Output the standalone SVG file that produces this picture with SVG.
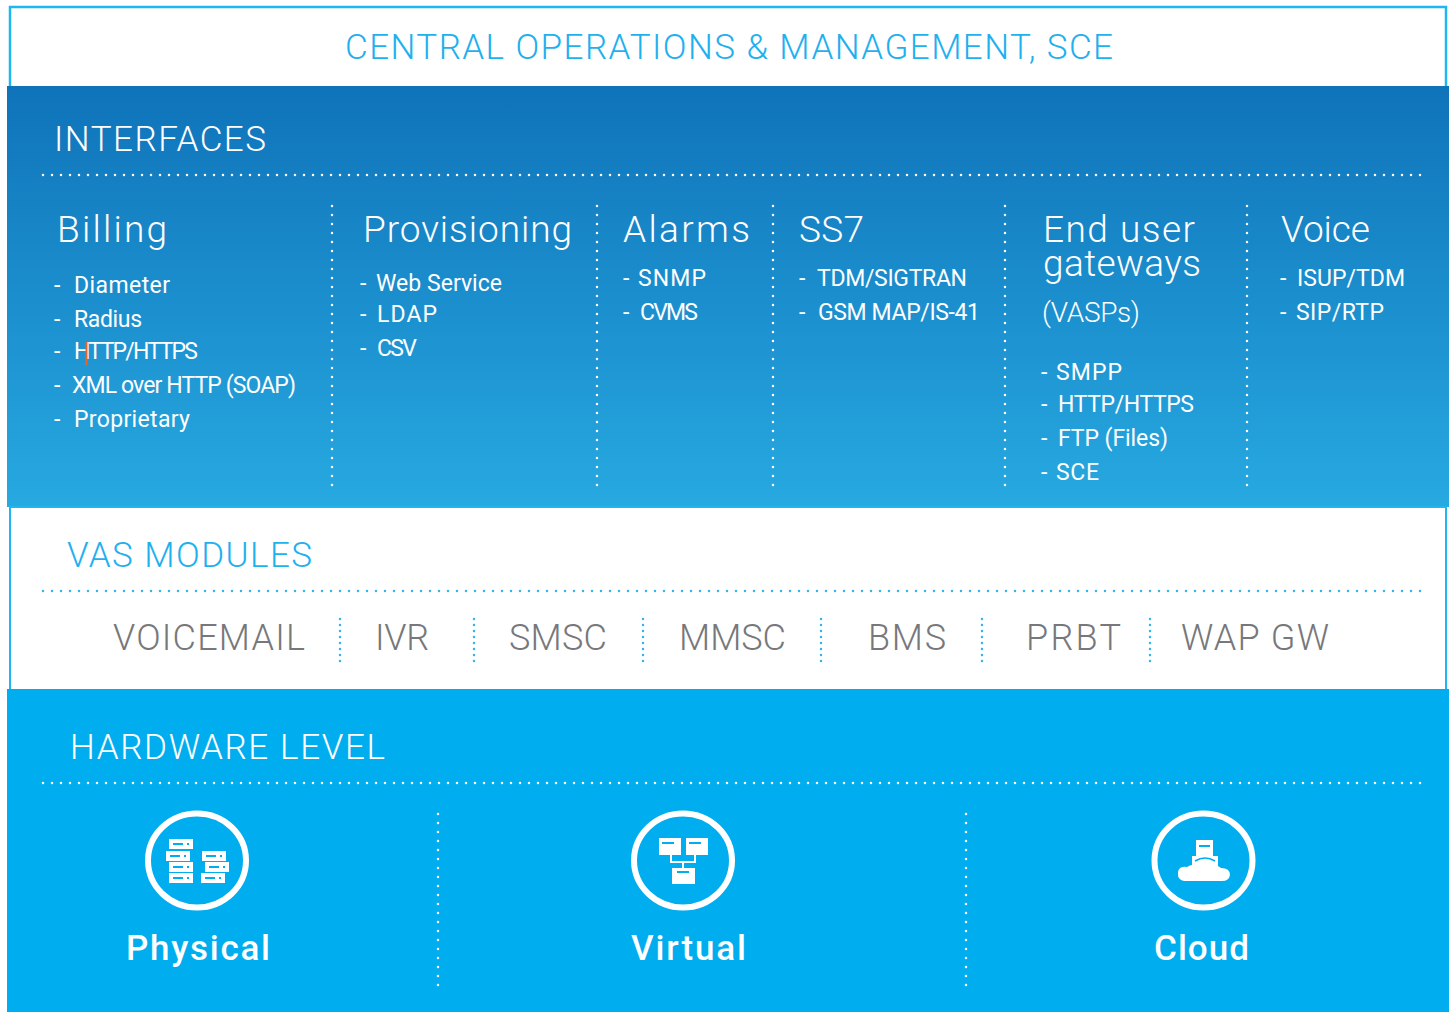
<svg xmlns="http://www.w3.org/2000/svg" width="1454" height="1012" viewBox="0 0 1454 1012">
<style>
text{font-family:"Roboto","Liberation Sans",sans-serif;font-weight:300}
.hd{font-size:35px;fill:#fff}
.hb{font-size:35px;fill:#1fb0ee}
.col{font-size:37px;fill:#fff}
.it{font-size:23px;fill:#fff;font-weight:400}
.mod{font-size:36px;fill:#77787b}
.hw{font-size:35px;fill:#fff;font-weight:500}
.dot{stroke:#fff;stroke-width:2.5;stroke-linecap:round;stroke-dasharray:0 9;fill:none}
.dotb{stroke:#35b5ee;stroke-width:2.5;stroke-linecap:round;stroke-dasharray:0 9;fill:none}
.dotv{stroke:#35b5ee;stroke-width:2.5;stroke-linecap:round;stroke-dasharray:0 6;fill:none}
.ring{fill:none;stroke:#fff;stroke-width:6}
.w{fill:#fff}
.s{fill:#00aeef}
</style>
<defs>
<linearGradient id="g" x1="0" y1="0" x2="0" y2="1"><stop offset="0" stop-color="#0f73b9"/><stop offset="1" stop-color="#27a9e1"/></linearGradient>
<g id="srv"><rect x="0" y="0" width="24" height="10" fill="#fff"/><rect x="4" y="4" width="10" height="2" fill="#00aeef"/><rect x="18" y="4" width="2" height="2" fill="#00aeef"/></g>
</defs>
<rect width="1454" height="1012" fill="#fff"/>
<g id="central">
<rect x="10" y="7" width="1436" height="90" fill="#fff" stroke="#1fb6f2" stroke-width="2.5"/>
<text class="hb" x="345" y="59" textLength="768" lengthAdjust="spacing">CENTRAL OPERATIONS &amp; MANAGEMENT, SCE</text>
</g>
<g id="interfaces">
<rect x="7" y="86" width="1442" height="421" fill="url(#g)"/>
<text class="hd" x="54" y="151" textLength="212" lengthAdjust="spacing">INTERFACES</text>
</g>
<g id="billing">
<text class="col" x="57" y="242" textLength="110" lengthAdjust="spacing">Billing</text>
<text class="it" x="54" y="293">-</text><text class="it" x="74" y="293" textLength="96" lengthAdjust="spacing">Diameter</text>
<text class="it" x="54" y="327">-</text><text class="it" x="74" y="327" textLength="68" lengthAdjust="spacing">Radius</text>
<text class="it" x="54" y="359">-</text><text class="it" x="74" y="359" textLength="124" lengthAdjust="spacing">HTTP/HTTPS</text>
<text class="it" x="54" y="393">-</text><text class="it" x="72" y="393" textLength="224" lengthAdjust="spacing">XML over HTTP (SOAP)</text>
<text class="it" x="54" y="427">-</text><text class="it" x="74" y="427" textLength="116" lengthAdjust="spacing">Proprietary</text>
<line x1="86.500" y1="342" x2="86.500" y2="365" stroke="#e0662a" stroke-width="2"/>
</g>
<g id="provisioning">
<text class="col" x="363" y="242" textLength="209" lengthAdjust="spacing">Provisioning</text>
<text class="it" x="360" y="291">-</text><text class="it" x="376" y="291" textLength="126" lengthAdjust="spacing">Web Service</text>
<text class="it" x="360" y="322">-</text><text class="it" x="377" y="322" textLength="60" lengthAdjust="spacing">LDAP</text>
<text class="it" x="360" y="356">-</text><text class="it" x="377" y="356" textLength="40" lengthAdjust="spacing">CSV</text>
</g>
<g id="alarms">
<text class="col" x="623" y="242" textLength="127" lengthAdjust="spacing">Alarms</text>
<text class="it" x="623" y="286">-</text><text class="it" x="638" y="286" textLength="68" lengthAdjust="spacing">SNMP</text>
<text class="it" x="623" y="320">-</text><text class="it" x="640" y="320" textLength="58" lengthAdjust="spacing">CVMS</text>
</g>
<g id="ss7">
<text class="col" x="799" y="242" textLength="65" lengthAdjust="spacing">SS7</text>
<text class="it" x="799" y="286">-</text><text class="it" x="817" y="286" textLength="150" lengthAdjust="spacing">TDM/SIGTRAN</text>
<text class="it" x="799" y="320">-</text><text class="it" x="818" y="320" textLength="162" lengthAdjust="spacing">GSM MAP/IS-41</text>
</g>
<g id="end-user">
<text class="col"><tspan x="1043" y="242" textLength="152" lengthAdjust="spacing">End user</tspan><tspan x="1043" y="276" textLength="158" lengthAdjust="spacing">gateways</tspan></text>
<text class="it" style="font-size:28px;font-weight:300" x="1042" y="322" textLength="98" lengthAdjust="spacing">(VASPs)</text>
<text class="it" x="1041" y="380">-</text><text class="it" x="1056" y="380" textLength="66" lengthAdjust="spacing">SMPP</text>
<text class="it" x="1041" y="412">-</text><text class="it" x="1058" y="412" textLength="136" lengthAdjust="spacing">HTTP/HTTPS</text>
<text class="it" x="1041" y="446">-</text><text class="it" x="1058" y="446" textLength="110" lengthAdjust="spacing">FTP (Files)</text>
<text class="it" x="1041" y="480">-</text><text class="it" x="1056" y="480" textLength="43" lengthAdjust="spacing">SCE</text>
</g>
<g id="voice">
<text class="col" x="1281" y="242" textLength="89" lengthAdjust="spacing">Voice</text>
<text class="it" x="1280" y="286">-</text><text class="it" x="1297" y="286" textLength="108" lengthAdjust="spacing">ISUP/TDM</text>
<text class="it" x="1280" y="320">-</text><text class="it" x="1296" y="320" textLength="88" lengthAdjust="spacing">SIP/RTP</text>
</g>
<g id="vas-modules">
<rect x="10" y="507" width="1436" height="183" fill="#fff" stroke="#1fb6f2" stroke-width="2"/>
<text class="hb" x="67" y="567" textLength="245" lengthAdjust="spacing">VAS MODULES</text>
<text class="mod" x="113" y="650" textLength="192" lengthAdjust="spacing">VOICEMAIL</text>
<text class="mod" x="375" y="650" textLength="54" lengthAdjust="spacing">IVR</text>
<text class="mod" x="509" y="650" textLength="98" lengthAdjust="spacing">SMSC</text>
<text class="mod" x="679" y="650" textLength="107" lengthAdjust="spacing">MMSC</text>
<text class="mod" x="868" y="650" textLength="78" lengthAdjust="spacing">BMS</text>
<text class="mod" x="1026" y="650" textLength="95" lengthAdjust="spacing">PRBT</text>
<text class="mod" x="1181" y="650" textLength="148" lengthAdjust="spacing">WAP GW</text>
</g>
<g id="hardware">
<rect x="7" y="689" width="1442" height="323" fill="#00aeef"/>
<text class="hd" x="70" y="759" textLength="315" lengthAdjust="spacing">HARDWARE LEVEL</text>
</g>
<g id="physical">
<ellipse class="ring" cx="197" cy="860.500" rx="49" ry="47"/>
<use href="#srv" x="169" y="839"/><use href="#srv" x="166" y="851"/><use href="#srv" x="169" y="862"/><use href="#srv" x="169" y="873"/>
<use href="#srv" x="202" y="851"/><use href="#srv" x="205" y="862"/><use href="#srv" x="201" y="873"/>
<text class="hw" x="126" y="960" textLength="144" lengthAdjust="spacing">Physical</text>
</g>
<g id="virtual">
<ellipse class="ring" cx="683" cy="860.500" rx="49" ry="47"/>
<path d="M671 855V862H695V855M683 862V868" fill="none" stroke="#fff" stroke-width="2"/>
<rect x="659" y="838" width="22" height="17" class="w"/><rect x="662" y="842" width="12" height="2" class="s"/>
<rect x="686" y="838" width="22" height="17" class="w"/><rect x="689" y="842" width="12" height="2" class="s"/>
<rect x="672" y="868" width="23" height="16" class="w"/><rect x="677" y="871" width="12" height="2" class="s"/>
<text class="hw" x="631" y="960" textLength="115" lengthAdjust="spacing">Virtual</text>
</g>
<g id="cloud">
<ellipse class="ring" cx="1203.500" cy="860.500" rx="49" ry="47"/>
<rect x="1196" y="840" width="17" height="17" class="w"/><rect x="1199" y="845" width="11" height="2" class="s"/>
<path d="M1192 856H1218V872H1192Z" class="w"/><path d="M1195 861Q1205 855 1215 861" fill="none" stroke="#00aeef" stroke-width="1.500"/>
<path d="M1184 881Q1177 880 1178 872Q1179 866 1187 867Q1192 863 1204 866Q1216 863 1221 868Q1230 868 1230 875Q1229 881 1222 881Z" class="w"/>
<text class="hw" x="1154" y="960" textLength="95" lengthAdjust="spacing">Cloud</text>
</g>
<g id="connectors">
<path class="dot" d="M43 175H1421"/>
<path class="dot" d="M332 206V488M597 206V488M773 206V488M1005 206V488M1247 206V488"/>
<path class="dotb" d="M43 591H1421"/>
<path class="dotv" d="M340 619V662M474 619V662M643 619V662M821 619V662M982 619V662M1150 619V662"/>
<path class="dot" d="M43 783H1421"/>
<path class="dot" d="M438 814V986M966 814V986"/>
</g>
</svg>
